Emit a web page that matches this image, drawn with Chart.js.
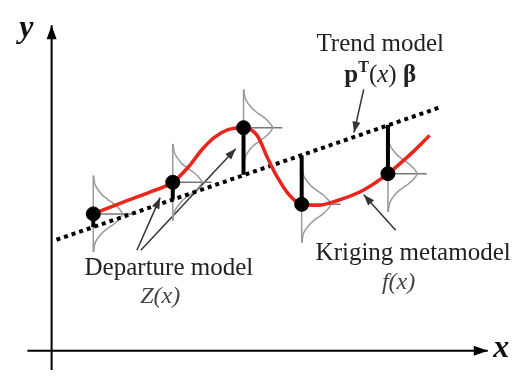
<!DOCTYPE html>
<html lang="en">
<head>
<meta charset="UTF-8">
<meta name="viewport" content="width=device-width, initial-scale=1.0">
<title>Kriging metamodel</title>
<script src="https://cdn.jsdelivr.net/npm/chart.js"></script>
<style>
  body { margin: 0; background: #fff; }
  #wrap { width: 520px; height: 378px; }
</style>
</head>
<body>
<div id="wrap"><canvas id="krig"></canvas></div>
<script>
// observed samples (axis units, origin where the axes cross)
const sampleX = [4.3, 12.5, 19.8, 25.8, 34.7];
const sampleY = [14.3, 17.6, 23.3, 15.3, 18.5];
// trend value straight above / below each sample
const trendAtSample = [12.9, 15.8, 18.4, 20.4, 23.6];

// trend model p'(x) beta, a straight line
const trendX = [0.5, 40.0];
const trendY = [11.6, 25.4];

// kriging metamodel f(x)
const curveX = [4.3, 6.8, 10.2, 12.5, 14.2, 15.5, 16.8, 18.2, 19.8, 21.2, 22.3, 23.2, 24.5, 25.8, 27.5, 29.5, 32.2, 34.7, 37.2, 39.0];
const curveY = [14.3, 15.3, 16.6, 17.6, 19.3, 21.0, 22.3, 23.1, 23.3, 22.5, 20.1, 18.3, 16.3, 15.3, 15.2, 15.7, 16.8, 18.5, 20.7, 22.5];

// bell drawn at each sample: offset along y, bulge along x
const bellDy = [-4, -3, -2, -1.5, -1, -0.5, 0, 0.5, 1, 1.5, 2, 3, 4];
const bellDx = [0.03, 0.2, 0.9, 1.5, 2.2, 2.7, 3.0, 2.7, 2.2, 1.5, 0.9, 0.2, 0.03];
const bellTick = 4.0;

// axes and pointer arrows: [x0, y0, x1, y1]
const axes = [[-2.5, 0, 45.0, 0], [0, -2.0, 0, 34.0]];
const pointers = [
  [8.8, 10.5, 11.2, 16.0],
  [9.2, 10.5, 19.0, 21.1],
  [32.2, 27.3, 31.2, 22.8],
  [35.5, 12.6, 32.2, 16.3]
];

const serif = '"Liberation Serif", "Times New Roman", serif';
const labels = [
  { x: -2.6, y: 32.8, color: '#111', parts: [['y', 'bold italic 32px ' + serif]] },
  { x: 46.4, y: -0.6, color: '#111', parts: [['x', 'bold italic 32px ' + serif]] },
  { x: 33.9, y: 31.3, color: '#222', parts: [['Trend model', '25px ' + serif]] },
  { x: 33.9, y: 28.1, color: '#222', parts: [
      ['p', 'bold 25px ' + serif], ['T', 'bold 16px ' + serif, -10], ['(', '25px ' + serif],
      ['x', 'italic 25px ' + serif], [') ', '25px ' + serif], ['\u03b2', 'bold 25px ' + serif]] },
  { x: 12.1, y: 7.9, color: '#222', parts: [['Departure model', '25px ' + serif]] },
  { x: 11.2, y: 5.0, color: '#444', parts: [['Z(x)', 'italic 24px ' + serif]] },
  { x: 37.3, y: 9.5, color: '#222', parts: [['Kriging metamodel', '25px ' + serif]] },
  { x: 35.8, y: 6.5, color: '#444', parts: [['f(x)', 'italic 24px ' + serif]] }
];

const pts = (xs, ys) => xs.map((x, i) => ({ x: x, y: ys[i] }));
const datasets = [];

datasets.push({ data: pts(sampleX, sampleY), showLine: false, pointRadius: 7,
  pointBackgroundColor: '#000', pointBorderColor: '#000', order: 0 });

sampleX.forEach((x, i) => {
  datasets.push({ data: [{ x: x, y: sampleY[i] }, { x: x, y: trendAtSample[i] }],
    borderColor: '#000', borderWidth: 4, borderCapStyle: 'butt', order: 1 });
});

datasets.push({ data: pts(curveX, curveY), borderColor: '#e8261c', borderWidth: 3.5,
  cubicInterpolationMode: 'monotone', order: 2 });

datasets.push({ data: pts(trendX, trendY), borderColor: '#000', borderWidth: 4,
  borderDash: [4, 4], borderCapStyle: 'butt', order: 3 });

sampleX.forEach((x, i) => {
  const y = sampleY[i];
  datasets.push({ data: bellDy.map((d, k) => ({ x: x + bellDx[k], y: y + d })),
    borderColor: '#999', borderWidth: 1.5, tension: 0.35, order: 4 });
  datasets.push({ data: [{ x: x, y: y + bellDy[0] }, { x: x, y: y + bellDy[bellDy.length - 1] }],
    borderColor: '#999', borderWidth: 1.5, order: 4 });
  datasets.push({ data: [{ x: x, y: y }, { x: x + bellTick, y: y }],
    borderColor: '#777', borderWidth: 1.5, order: 4 });
});

pointers.forEach(a => {
  datasets.push({ data: [{ x: a[0], y: a[1] }, { x: a[2], y: a[3] }],
    borderColor: '#333', borderWidth: 1.5, arrowHead: [11, 4], order: 5 });
});
axes.forEach(a => {
  datasets.push({ data: [{ x: a[0], y: a[1] }, { x: a[2], y: a[3] }],
    borderColor: '#000', borderWidth: 2, arrowHead: [14, 5], order: 6 });
});

const arrowPlugin = {
  id: 'arrows',
  afterDatasetsDraw(chart) {
    const ctx = chart.ctx;
    chart.data.datasets.forEach((ds, i) => {
      if (!ds.arrowHead) return;
      const m = chart.getDatasetMeta(i).data;
      const a = m[m.length - 2], b = m[m.length - 1];
      const ang = Math.atan2(b.y - a.y, b.x - a.x);
      const [len, half] = ds.arrowHead;
      ctx.save();
      ctx.fillStyle = ds.borderColor;
      ctx.translate(b.x, b.y);
      ctx.rotate(ang);
      ctx.beginPath();
      ctx.moveTo(0, 0);
      ctx.lineTo(-len, -half);
      ctx.lineTo(-len, half);
      ctx.closePath();
      ctx.fill();
      ctx.restore();
    });
  }
};

const textPlugin = {
  id: 'texts',
  afterDraw(chart) {
    const ctx = chart.ctx, sx = chart.scales.x, sy = chart.scales.y;
    ctx.save();
    ctx.textBaseline = 'alphabetic';
    ctx.textAlign = 'left';
    labels.forEach(l => {
      let w = 0;
      l.parts.forEach(p => { ctx.font = p[1]; w += ctx.measureText(p[0]).width; });
      let px = sx.getPixelForValue(l.x) - w / 2;
      const py = sy.getPixelForValue(l.y);
      ctx.fillStyle = l.color;
      l.parts.forEach(p => {
        ctx.font = p[1];
        ctx.fillText(p[0], px, py + (p[2] || 0));
        px += ctx.measureText(p[0]).width;
      });
    });
    ctx.restore();
  }
};

new Chart(document.getElementById('krig'), {
  type: 'line',
  data: { datasets: datasets },
  options: {
    responsive: true,
    maintainAspectRatio: false,
    animation: false,
    layout: { padding: 0 },
    elements: { point: { radius: 0 }, line: { fill: false } },
    plugins: { legend: { display: false }, tooltip: { enabled: false } },
    scales: {
      x: { type: 'linear', min: -4.5, max: 47.5, display: false },
      y: { type: 'linear', min: -2.0, max: 35.8, display: false }
    }
  },
  plugins: [arrowPlugin, textPlugin]
});
</script>
</body>
</html>
